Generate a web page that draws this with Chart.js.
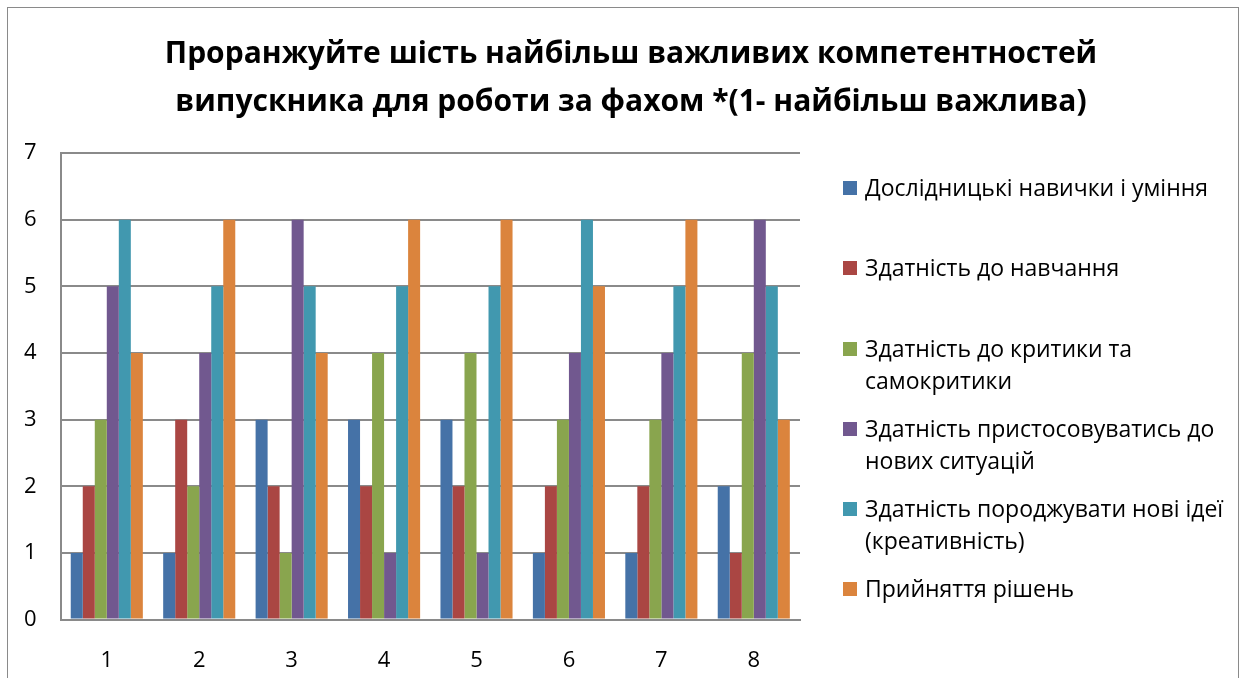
<!DOCTYPE html>
<html>
<head>
<meta charset="utf-8">
<script src="https://cdn.jsdelivr.net/npm/chart.js@4"></script>
<style>
  html, body { margin: 0; padding: 0; background: #fff; }
  #wrap { position: relative; width: 1244px; height: 678px; overflow: hidden; }
  #frame { position: absolute; left: 7px; top: 7px; width: 1232px; height: 700px; border: 1px solid #8a8a8a; box-sizing: border-box; }
  #chart { position: absolute; left: 0; top: 0; }
  #title { position: absolute; left: 0; top: 28px; width: 1262px; text-align: center; font-family: "Open Sans", sans-serif; font-weight: bold; font-size: 30px; line-height: 48px; color: #000; }
  #legend { position: absolute; left: 843px; top: 171px; width: 400px; font-family: "Open Sans", sans-serif; font-size: 23px; color: #000; }
  #legend .item { display: flex; align-items: flex-start; height: 80.3px; }
  #legend .box { width: 14px; height: 14px; margin-top: 10px; margin-right: 8px; flex: none; }
  #legend .txt { line-height: 32px; width: 365px; }
</style>
</head>
<body>
<div id="wrap">
  <div id="frame"></div>
  <canvas id="chart" width="1244" height="698"></canvas>
  <div id="title"></div>
  <div id="legend"></div>
</div>
<script>
const categories = ['1', '2', '3', '4', '5', '6', '7', '8'];
const seriesNames = [
  'Дослідницькі навички і уміння',
  'Здатність до навчання',
  'Здатність до критики та самокритики',
  'Здатність пристосовуватись до нових ситуацій',
  'Здатність породжувати нові ідеї (креативність)',
  'Прийняття рішень'
];
const research = [1, 1, 3, 3, 3, 1, 1, 2];
const learning = [2, 3, 2, 2, 2, 2, 2, 1];
const critique = [3, 2, 1, 4, 4, 3, 3, 4];
const adapting = [5, 4, 6, 1, 1, 4, 4, 6];
const creativity = [6, 5, 5, 5, 5, 6, 5, 5];
const decisions = [4, 6, 4, 6, 6, 5, 6, 3];
const colors = ['#4572A7', '#AA4643', '#89A54E', '#71588F', '#4198AF', '#DB843D'];
const titleLines = [
  'Проранжуйте шість найбільш важливих компетентностей',
  'випускника для роботи за фахом *(1- найбільш важлива)'
];

const seriesValues = [research, learning, critique, adapting, creativity, decisions];

document.getElementById('title').innerHTML = titleLines.join('<br>');

const ctx = document.getElementById('chart');
const chart = new Chart(ctx, {
  type: 'bar',
  data: {
    labels: categories,
    datasets: seriesValues.map((vals, i) => ({
      label: seriesNames[i],
      data: vals,
      backgroundColor: colors[i],
      borderWidth: 0,
      barPercentage: 1,
      categoryPercentage: 0.78
    }))
  },
  options: {
    responsive: false,
    animation: false,
    layout: { padding: { left: 0, right: 444, top: 153, bottom: 4 } },
    plugins: {
      legend: { display: false },
      tooltip: { enabled: false },
      title: { display: false }
    },
    scales: {
      x: {
        grid: { display: false },
        border: { color: '#8a8a8a', width: 2 },
        ticks: { color: '#000', font: { family: '"Open Sans", sans-serif', size: 22 }, padding: 20 }
      },
      y: {
        min: 0,
        max: 7,
        ticks: { stepSize: 1, color: '#000', font: { family: '"Open Sans", sans-serif', size: 22 }, padding: 24 },
        grid: { color: '#8a8a8a', lineWidth: 2, drawTicks: false },
        border: { color: '#8a8a8a', width: 2 }
      }
    }
  }
});

const legendEl = document.getElementById('legend');
chart.data.datasets.forEach(ds => {
  const item = document.createElement('div');
  item.className = 'item';
  const box = document.createElement('span');
  box.className = 'box';
  box.style.background = ds.backgroundColor;
  const txt = document.createElement('span');
  txt.className = 'txt';
  txt.textContent = ds.label;
  item.appendChild(box);
  item.appendChild(txt);
  legendEl.appendChild(item);
});
</script>
</body>
</html>
